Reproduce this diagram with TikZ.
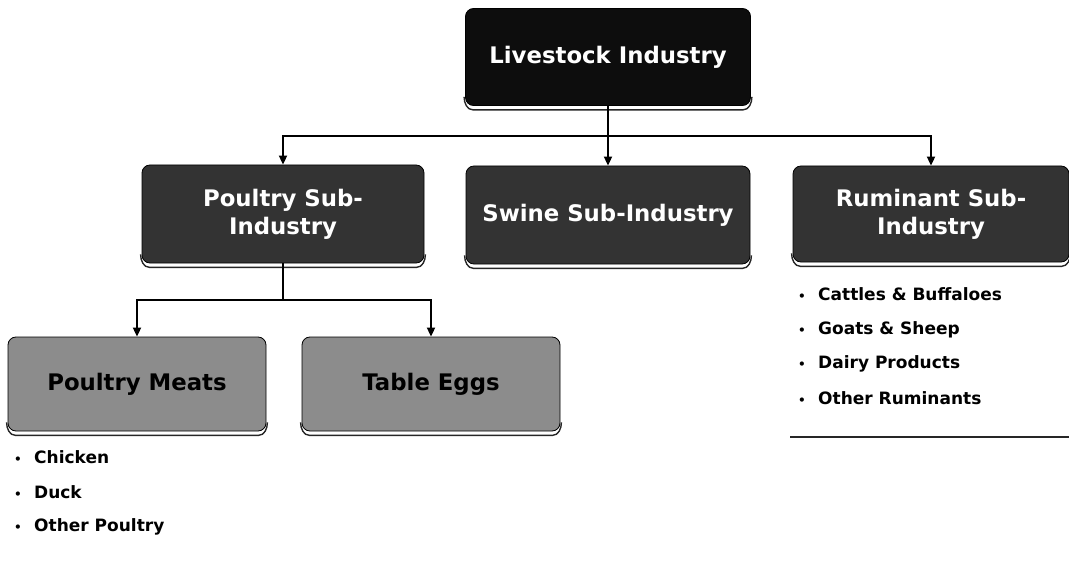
\documentclass[tikz,border=0pt]{standalone}
\usepackage{fontspec}
\setmainfont{DejaVu Sans}
\usetikzlibrary{arrows.meta,calc}
\newcommand\bevelline[1]{%
  \draw[bevel] ($(#1.south west)+(-1,-9)$) to[out=-90,in=180] ($(#1.south west)+(8,4)$)
    -- ($(#1.south east)+(-8,4)$) to[out=0,in=-90] ($(#1.south east)+(1,-9)$);}
\begin{document}
\begin{tikzpicture}[x=1pt,y=-1pt,
  box/.style={rectangle, rounded corners=8pt, draw=black, line width=0.8pt,
    font=\fontsize{22.8}{28}\selectfont\bfseries, align=center, inner sep=0pt},
  topbox/.style={box, fill=black!95, text=white, minimum width=285pt, minimum height=97pt},
  subbox/.style={box, fill=black!80, text=white, minimum width=282pt, minimum height=98pt},
  leafbox/.style={box, fill=black!45, text=black, minimum width=258pt, minimum height=94pt},
  item/.style={anchor=west, inner sep=0pt, font=\fontsize{17}{20}\selectfont\bfseries},
  conn/.style={line width=1.8pt, black},
  arr/.style={conn, -{Triangle[length=9pt,width=8pt]}},
  bevel/.style={line width=1.4pt, black!85}
]
\useasboundingbox (0,0) rectangle (1069,567);

% nodes
\node[topbox] (top) at (608,57) {Livestock Industry};
\node[subbox] (poultry) at (283,214) {Poultry Sub-\\Industry};
\node[subbox, minimum width=284pt] (swine) at (608,215) {Swine Sub-Industry};
\node[subbox, minimum width=276pt, minimum height=96pt] (rumin) at (931,214) {Ruminant Sub-\\Industry};
\node[leafbox] (meats) at (137,384) {Poultry Meats};
\node[leafbox] (eggs) at (431,384) {Table Eggs};

% bevel lines
\bevelline{top}
\bevelline{poultry}
\bevelline{swine}
\bevelline{rumin}
\bevelline{meats}
\bevelline{eggs}

% connectors
\coordinate (j1) at (608,136);
\coordinate (j2) at (283,300);
\draw[conn] (top.south) -- (j1);
\draw[arr] (j1) -| (poultry.north);
\draw[arr] (j1) -- (swine.north);
\draw[arr] (j1) -| (rumin.north);
\draw[conn] (poultry.south) -- (j2);
\draw[arr] (j2) -| (meats.north);
\draw[arr] (j2) -| (eggs.north);

% poultry list
\node[item] (l1) at (14,457) {\makebox[20pt][l]{\fontsize{12}{12}\selectfont •}Chicken};
\node[item] (l2) at (14,492) {\makebox[20pt][l]{\fontsize{12}{12}\selectfont •}Duck};
\node[item] (l3) at (14,527) {\makebox[20pt][l]{\fontsize{12}{12}\selectfont •}Other Poultry};

% ruminant list
\node[item] (r1) at (798,294) {\makebox[20pt][l]{\fontsize{12}{12}\selectfont •}Cattles \& Buffaloes};
\node[item] (r2) at (798,330) {\makebox[20pt][l]{\fontsize{12}{12}\selectfont •}Goats \& Sheep};
\node[item] (r3) at (798,364) {\makebox[20pt][l]{\fontsize{12}{12}\selectfont •}Dairy Products};
\node[item] (r4) at (798,398) {\makebox[20pt][l]{\fontsize{12}{12}\selectfont •}Other Ruminants};
\coordinate (rl1) at (790,437);
\coordinate (rl2) at (1069,437);
\draw[bevel] (rl1) -- (rl2);
\end{tikzpicture}
\end{document}
